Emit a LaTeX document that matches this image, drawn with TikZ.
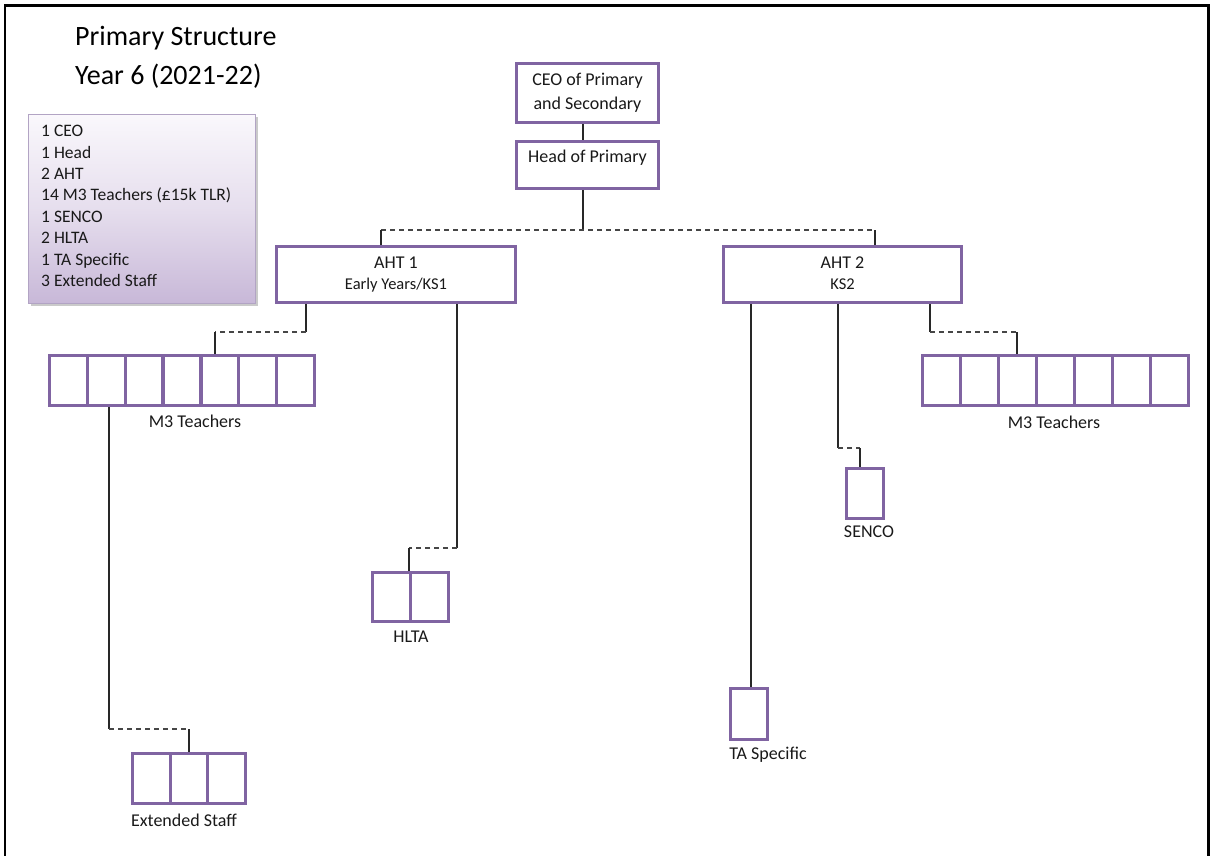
\documentclass[tikz,border=0pt]{standalone}
\usepackage{fontspec}
\setmainfont{Carlito}
\definecolor{boxpurple}{RGB}{128,100,162}
\definecolor{linegray}{RGB}{40,40,40}
\definecolor{dashgray}{RGB}{70,70,70}
\definecolor{legendtop}{RGB}{250,248,252}
\definecolor{legendbot}{RGB}{200,184,216}
\definecolor{legendedge}{RGB}{178,164,196}
\begin{document}
\begin{tikzpicture}[x=1pt,y=-1pt,
  post/.style={draw=boxpurple, line width=3.2pt, fill=white, inner sep=0pt,
    align=center, text=black!90, font=\fontsize{18}{24}\selectfont},
  cell/.style={draw=boxpurple, line width=3.2pt, fill=white, inner sep=0pt},
  link/.style={draw=linegray, line width=1.8pt},
  dlink/.style={draw=dashgray, line width=1.8pt, dash pattern=on 5pt off 4pt},
  caption/.style={font=\fontsize{18}{22}\selectfont, inner sep=0pt, text=black!90,
    text height=12pt, text depth=4pt},
  legendline/.style={font=\fontsize{17.5}{21}\selectfont, inner sep=0pt, anchor=base west, text=black!90}
]
\useasboundingbox (0,0) rectangle (1210,855);

% page frame (open at the bottom)
\draw[line width=2.5pt] (5,857) -- (5,5.5) -- (1208.5,5.5) -- (1208.5,857);

% title
\node[font=\fontsize{28}{34}\selectfont, anchor=base west, inner sep=0pt] (title1) at (75,45) {Primary Structure};
\node[font=\fontsize{28}{34}\selectfont, anchor=base west, inner sep=0pt] (title2) at (75,84) {Year 6 (2021-22)};

% staffing summary
\fill[black!35, opacity=0.6] (31,117) rectangle (258,306);
\shade[top color=legendtop, bottom color=legendbot, middle color=legendtop!60!legendbot] (28,114) rectangle (255,303);
\draw[legendedge, line width=1pt] (28,114) rectangle (255,303);
\foreach \t [count=\i] in {1 CEO, 1 Head, 2 AHT, 14 M3 Teachers (£15k TLR), 1 SENCO, 2 HLTA, 1 TA Specific, 3 Extended Staff}
  \node[legendline] (leg-\i) at (41,{136.7+(\i-1)*21.43}) {\t};

% senior posts
\node[post, minimum width=142pt, minimum height=59pt] (ceo) at (587.5,93) {CEO of Primary\\and Secondary};
\node[post, minimum width=142pt, minimum height=47pt, text depth=18pt] (head) at (587.5,165) {Head of Primary};
\node[post, minimum width=239pt, minimum height=56pt] (aht1) at (396,274.5)
  {AHT 1\\[-3pt]{\fontsize{16.5}{20}\selectfont Early Years/KS1}};
\node[post, minimum width=238pt, minimum height=56pt] (aht2) at (842.5,274.5)
  {AHT 2\\[-3pt]{\fontsize{16.5}{20}\selectfont KS2\vphantom{y}}};

% staff rows
\foreach \i in {1,...,7}
  \node[cell, minimum width=37.86pt, minimum height=50pt] (ml-\i) at ({49.5+(\i-0.5)*37.86},380.5) {};
\foreach \i in {1,...,7}
  \node[cell, minimum width=38pt, minimum height=50pt] (mr-\i) at ({922.5+(\i-0.5)*38},380.5) {};
\foreach \i in {1,...,3}
  \node[cell, minimum width=37.67pt, minimum height=50pt] (ex-\i) at ({132.5+(\i-0.5)*37.67},778.5) {};
\foreach \i in {1,2}
  \node[cell, minimum width=38pt, minimum height=49pt] (hl-\i) at ({372.5+(\i-0.5)*38},597) {};
\node[cell, minimum width=37pt, minimum height=50pt] (senco) at (865,493.5) {};
\node[cell, minimum width=37pt, minimum height=51pt] (ta) at (749,714) {};

% captions
\node[caption] (cap-ml) at (195,423) {M3 Teachers};
\node[caption] (cap-mr) at (1054,424) {M3 Teachers};
\node[caption] (cap-ex) at (184,822) {Extended Staff};
\node[caption] (cap-hl) at (411,638) {HLTA};
\node[caption] (cap-se) at (869,533) {SENCO};
\node[caption] (cap-ta) at (768,755) {TA Specific};

% junction points
\coordinate (hj) at (583,230);
\coordinate (a1j) at (381,230);
\coordinate (a2j) at (875,230);
\coordinate (l1) at (306,332);
\coordinate (l2) at (215,332);
\coordinate (h1) at (457,548);
\coordinate (h2) at (409,548);
\coordinate (e1) at (109,729);
\coordinate (e2) at (189,729);
\coordinate (t1) at (751,304);
\coordinate (s1) at (838,448);
\coordinate (s2) at (860,448);
\coordinate (r1) at (930,332);
\coordinate (r2) at (1017,332);

% connectors
\draw[link] (ceo.south -| hj) -- (head.north -| hj);
\draw[link] (head.south -| hj) -- (hj);
\draw[dlink] (a1j) -- (a2j);
\draw[link] (a1j) -- (aht1.north -| a1j);
\draw[link] (a2j) -- (aht2.north -| a2j);

\draw[link] (aht1.south -| l1) -- (l1);
\draw[dlink] (l1) -- (l2);
\draw[link] (l2) -- (ml-5.north -| l2);

\draw[link] (aht1.south -| h1) -- (h1);
\draw[dlink] (h1) -- (h2);
\draw[link] (h2) -- (hl-1.north -| h2);

\draw[link] (ml-2.south -| e1) -- (e1);
\draw[dlink] (e1) -- (e2);
\draw[link] (e2) -- (ex-2.north -| e2);

\draw[link] (aht2.south -| t1) -- (ta.north -| t1);

\draw[link] (aht2.south -| s1) -- (s1);
\draw[dlink] (s1) -- (s2);
\draw[link] (s2) -- (senco.north -| s2);

\draw[link] (aht2.south -| r1) -- (r1);
\draw[dlink] (r1) -- (r2);
\draw[link] (r2) -- (mr-3.north -| r2);
\end{tikzpicture}
\end{document}
